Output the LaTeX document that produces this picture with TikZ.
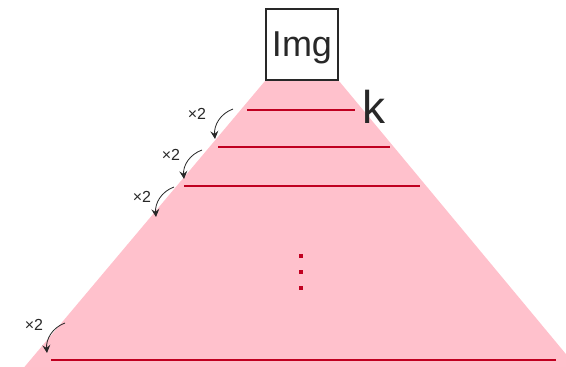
\documentclass[tikz,border=0pt]{standalone}
\usepackage{fontspec}
\setmainfont{Liberation Sans}
\usetikzlibrary{arrows.meta, positioning}
\definecolor{pyrpink}{RGB}{255,193,204}
\definecolor{lvlred}{RGB}{192,0,32}
\definecolor{inkgray}{RGB}{40,40,40}

\begin{document}
\begin{tikzpicture}[x=1pt, y=1pt,
  lvl/.style={lvlred, line width=1.1pt},
  up/.style={-{Stealth[length=8pt, width=8pt, inset=3pt]}, inkgray, line width=0.8pt},
  tlab/.style={font=\fontsize{16}{16}\selectfont, text=inkgray, inner sep=0pt}
]
\useasboundingbox (0,0) rectangle (566,367);
\clip (0,0) rectangle (566,367);

% pyramid
\fill[pyrpink] (265,286) -- (339,286) -- (585,-10) -- (16,-10) -- cycle;

\node[draw=inkgray, line width=2pt, fill=white, minimum width=72pt, minimum height=71pt,
      inner sep=0pt, text depth=0pt, text=inkgray, font=\fontsize{36}{36}\selectfont] (img) at (302,322.5) {Img};

% levels
\coordinate (l1w) at (247,257); \coordinate (l1e) at (355,257);
\coordinate (l2w) at (218,220); \coordinate (l2e) at (390,220);
\coordinate (l3w) at (184,181); \coordinate (l3e) at (420,181);
\coordinate (l4w) at (51,7);    \coordinate (l4e) at (556,7);
\draw[lvl] (l1w) -- (l1e);
\draw[lvl] (l2w) -- (l2e);
\draw[lvl] (l3w) -- (l3e);
\draw[lvl] (l4w) -- (l4e);

\node[anchor=base west, inner sep=0pt, text=inkgray, font=\fontsize{46}{46}\selectfont] (k) at (362,243) {k};

% dots
\foreach \y in {111,95,79}
  \fill[lvlred] (299,\y-2) rectangle ++(4,4);

% upsampling steps
\node[tlab] (x1) at (197,253) {×2};
\node[tlab] (x2) at (171,212) {×2};
\node[tlab] (x3) at (142,170) {×2};
\node[tlab] (x4) at (34,42) {×2};
\coordinate (s1) at (233,258); \coordinate (t1) at (215,228);
\coordinate (s2) at (202,217); \coordinate (t2) at (184,188);
\coordinate (s3) at (174,180); \coordinate (t3) at (156,150);
\coordinate (s4) at (65,44);   \coordinate (t4) at (47,14);
\draw[up] (s1) to[out=200, in=95] (t1);
\draw[up] (s2) to[out=200, in=95] (t2);
\draw[up] (s3) to[out=200, in=95] (t3);
\draw[up] (s4) to[out=200, in=95] (t4);
\end{tikzpicture}
\end{document}
